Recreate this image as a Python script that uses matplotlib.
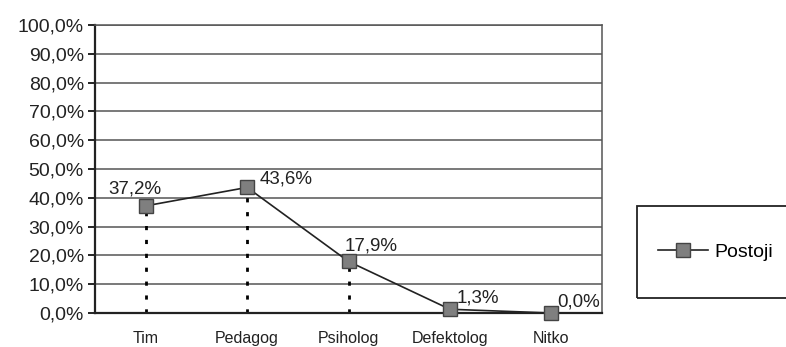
import matplotlib.pyplot as plt
from matplotlib.patches import Rectangle
from matplotlib.ticker import FuncFormatter, MultipleLocator

plt.rcParams['font.family'] = ['Liberation Sans', 'DejaVu Sans']

categories = ["Tim", "Pedagog", "Psiholog", "Defektolog", "Nitko"]
values = [37.2, 43.6, 17.9, 1.3, 0.0]
series_name = "Postoji"

# label offsets in points (dx, dy, ha)
label_pos = [(-8, 6, "center"), (9, 0, "left"), (-3, 5, "left"), (5, 2, "left"), (4, 2, "left")]

fig = plt.figure(figsize=(7.86, 3.47), dpi=100)
ax = fig.add_axes([95 / 786, 34 / 347, 507 / 786, 288 / 347])

x = list(range(len(categories)))

# dotted drop lines
ax.vlines(x, 0, values, colors="black", linestyles=(0, (1.5, 3.5)), linewidth=2, zorder=2)

line, = ax.plot(x, values, color="#222222", linewidth=1.2, marker="s", markersize=10.5,
                markerfacecolor="#7f7f7f", markeredgecolor="#444444", markeredgewidth=1,
                label=series_name, zorder=3, clip_on=False)

for xi, v, (dx, dy, ha) in zip(x, values, label_pos):
    ax.annotate(f"{v:.1f}%".replace(".", ","), (xi, v), xytext=(dx, dy),
                textcoords="offset points", ha=ha, va="bottom", fontsize=13.5, color="#222222")

ax.set_xlim(-0.5, len(categories) - 0.5)
ax.set_ylim(0, 100)
ax.yaxis.set_major_locator(MultipleLocator(10))
ax.yaxis.set_major_formatter(FuncFormatter(lambda v, p: f"{v:.1f}%".replace(".", ",")))
ax.set_xticks(x)
ax.set_xticklabels(categories, fontsize=11.5, color="#222222")
ax.tick_params(axis="x", length=0, pad=13)
ax.tick_params(axis="y", length=5, width=1.2, labelsize=14, labelcolor="#222222", pad=3)

ax.grid(axis="y", color="#555555", linewidth=1.1)
ax.set_axisbelow(True)
for s in ["left", "bottom"]:
    ax.spines[s].set_linewidth(1.6)
    ax.spines[s].set_color("#222222")
ax.spines["right"].set_color("#555555")
ax.spines["right"].set_linewidth(1.1)
ax.spines["top"].set_color("#555555")
ax.spines["top"].set_linewidth(1.1)

# legend box (runs off the right edge like the original)
fig.patches.append(Rectangle((637 / 786, 49 / 347), 0.3, 92 / 347, transform=fig.transFigure,
                             fill=False, edgecolor="#222222", linewidth=1.3))
fig.legend(handles=[line], loc="center left", bbox_to_anchor=(650 / 786, 95 / 347),
           fontsize=14, frameon=False, handlelength=2.6, handletextpad=0.3, borderaxespad=0)

fig.savefig("out.png", dpi=100)
